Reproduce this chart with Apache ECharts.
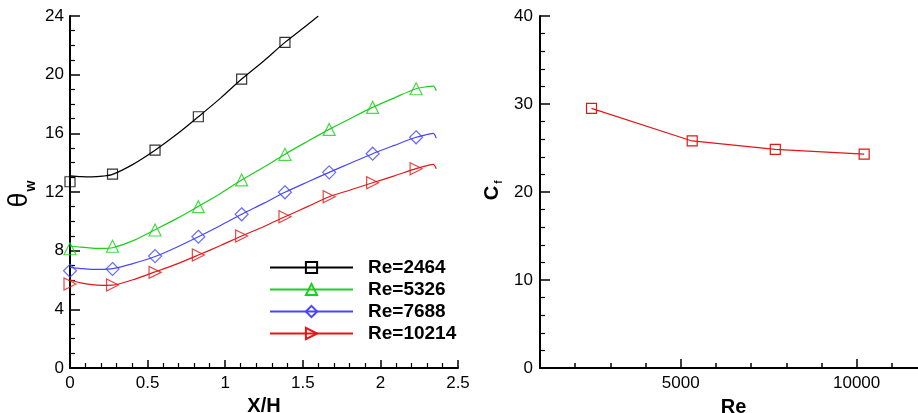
<!DOCTYPE html>
<html>
<head>
<meta charset="UTF-8">
<script src="https://cdn.jsdelivr.net/npm/echarts@6/dist/echarts.min.js"></script>
<style>
  html, body { margin: 0; padding: 0; background: #fff; }
  #chart { width: 918px; height: 413px; }
</style>
</head>
<body>
<div id="chart"></div>
<script>
// --- data ---
var reNames = ['Re=2464', 'Re=5326', 'Re=7688', 'Re=10214'];

// theta_w curves vs X/H
var curveX2464 = [0, 0.07, 0.14, 0.21, 0.274, 0.4, 0.548, 0.69, 0.827, 0.97, 1.106, 1.25, 1.385, 1.53, 1.6];
var curve2464 = [13.1, 13.05, 13.03, 13.08, 13.2, 13.85, 14.85, 15.95, 17.13, 18.4, 19.7, 20.95, 22.2, 23.4, 24.0];
var curveX = [0, 0.07, 0.14, 0.21, 0.274, 0.4, 0.548, 0.69, 0.827, 0.97, 1.106, 1.25, 1.385, 1.53, 1.67, 1.81, 1.95, 2.09, 2.23, 2.3, 2.34, 2.36];
var curve5326 = [8.32, 8.24, 8.18, 8.15, 8.2, 8.65, 9.43, 10.2, 11.02, 11.9, 12.82, 13.7, 14.58, 15.45, 16.27, 17.03, 17.77, 18.42, 19.04, 19.18, 19.22, 18.9];
var curve7688 = [6.86, 6.78, 6.73, 6.73, 6.77, 7.1, 7.6, 8.25, 8.95, 9.72, 10.48, 11.24, 11.98, 12.68, 13.34, 13.98, 14.61, 15.18, 15.73, 15.92, 16.0, 15.66];
var curve10214 = [6.0, 5.8, 5.68, 5.64, 5.65, 6.0, 6.55, 7.1, 7.7, 8.35, 9.0, 9.65, 10.31, 11.0, 11.68, 12.15, 12.63, 13.1, 13.59, 13.8, 13.89, 13.59];

// symbol points
var markX = [0, 0.274, 0.548, 0.827, 1.106, 1.385, 1.67, 1.95, 2.23];
var mark2464 = [12.7, 13.22, 14.86, 17.13, 19.7, 22.2];
var mark5326 = [8.13, 8.3, 9.41, 11.0, 12.82, 14.57, 16.27, 17.77, 19.04];
var mark7688 = [6.63, 6.75, 7.63, 8.95, 10.48, 11.98, 13.34, 14.61, 15.73];
var mark10214 = [5.73, 5.66, 6.52, 7.7, 9.0, 10.31, 11.68, 12.63, 13.59];

// Cf vs Re
var reValues = [2464, 5326, 7688, 10214];
var cfValues = [29.5, 25.8, 24.85, 24.3];
var reTicks = [5000, 10000];

// --- styling ---
var colors = ['#000000', '#1ccf1c', '#4646ff', '#e31616'];
var symbols = ['rect', 'triangle', 'diamond', 'triangle'];
var symRotate = [0, 0, 0, -90];
var symSizes = [10, 12, 13, 12];
var font = "'Liberation Sans', Arial, Helvetica, sans-serif";

function zip(xs, ys) {
  return ys.map(function (y, i) { return [xs[i], y]; });
}

var curves = [zip(curveX2464, curve2464), zip(curveX, curve5326), zip(curveX, curve7688), zip(curveX, curve10214)];
var marks = [zip(markX, mark2464), zip(markX, mark5326), zip(markX, mark7688), zip(markX, mark10214)];

var series = [];
reNames.forEach(function (name, i) {
  var item = { color: 'rgba(0,0,0,0)', borderColor: colors[i], borderWidth: 1.2 };
  series.push({
    name: name, type: 'line', xAxisIndex: 0, yAxisIndex: 0,
    data: curves[i], smooth: 0.3, showSymbol: false,
    symbol: symbols[i], symbolRotate: symRotate[i], symbolSize: symSizes[i],
    lineStyle: { color: colors[i], width: 1.2 }, itemStyle: item,
    animation: false, z: 2
  });
});
reNames.forEach(function (name, i) {
  series.push({
    name: name, type: 'scatter', xAxisIndex: 0, yAxisIndex: 0,
    data: marks[i], symbol: symbols[i], symbolRotate: symRotate[i], symbolSize: symSizes[i],
    itemStyle: { color: 'rgba(0,0,0,0)', borderColor: colors[i], borderWidth: 1.2 },
    animation: false, z: 3
  });
});
series.push({
  name: 'Cf', type: 'line', xAxisIndex: 1, yAxisIndex: 1,
  data: zip(reValues, cfValues), symbol: 'rect', symbolSize: 10,
  lineStyle: { color: colors[3], width: 1.2 },
  itemStyle: { color: 'rgba(0,0,0,0)', borderColor: colors[3], borderWidth: 1.2 },
  animation: false
});

var axisLine = { show: true, onZero: false, lineStyle: { color: '#000', width: 2 } };
var tick = function (len) { return { show: true, inside: true, length: len, lineStyle: { color: '#000', width: 1.5 } }; };
var minor = function (n) { return { show: true, splitNumber: n, length: 5, lineStyle: { color: '#000', width: 1.2 } }; };
var label = { color: '#000', fontSize: 17, fontFamily: font };
var nameStyle = { color: '#000', fontSize: 20, fontWeight: 'bold', fontFamily: font };

var myChart = echarts.init(document.getElementById('chart'));
myChart.setOption({
  animation: false,
  backgroundColor: '#fff',
  grid: [
    { left: 70, top: 16, width: 388, height: 352, outerBoundsMode: 'none', containLabel: false },
    { left: 540, top: 16, width: 387, height: 352, outerBoundsMode: 'none', containLabel: false }
  ],
  xAxis: [
    {
      type: 'value', gridIndex: 0, min: 0, max: 2.5, interval: 0.5,
      name: 'X/H', nameLocation: 'middle', nameGap: 20, nameTextStyle: nameStyle,
      axisLine: axisLine, axisTick: tick(8), minorTick: minor(5),
      axisLabel: Object.assign({ margin: 7 }, label), splitLine: { show: false }
    },
    {
      type: 'value', gridIndex: 1, min: 1000, max: 12000, interval: 1000,
      axisLine: axisLine, axisTick: tick(5), axisLabel: { show: false }, splitLine: { show: false }
    },
    {
      type: 'value', gridIndex: 1, min: 1000, max: 12000, position: 'bottom',
      name: 'Re', nameLocation: 'middle', nameGap: 29, nameTextStyle: nameStyle,
      axisLine: { show: false },
      axisTick: Object.assign(tick(9), { customValues: reTicks }),
      axisLabel: Object.assign({ margin: 7, customValues: reTicks, formatter: function (v) { return String(v); } }, label),
      splitLine: { show: false }
    }
  ],
  yAxis: [
    {
      type: 'value', gridIndex: 0, min: 0, max: 24, interval: 4,
      axisLine: axisLine, axisTick: tick(10), minorTick: minor(4),
      axisLabel: Object.assign({ margin: 6 }, label), splitLine: { show: false }
    },
    {
      type: 'value', gridIndex: 1, min: 0, max: 40, interval: 10,
      axisLine: axisLine, axisTick: tick(10), minorTick: minor(5),
      axisLabel: Object.assign({ margin: 7 }, label), splitLine: { show: false }
    }
  ],
  legend: {
    data: reNames, orient: 'vertical', left: 264, top: 253,
    itemWidth: 83, itemHeight: 14, itemGap: 3,
    textStyle: { color: '#000', fontSize: 19, fontWeight: 'bold', fontFamily: font, lineHeight: 19, padding: [0, 0, 0, 10] }
  },
  graphic: [
    { type: 'text', x: 20, y: 200, rotation: Math.PI / 2,
      style: { text: 'θ', fontSize: 27, fontFamily: font, fill: '#000', align: 'center', verticalAlign: 'middle' } },
    { type: 'text', x: 31, y: 186, rotation: Math.PI / 2,
      style: { text: 'w', fontSize: 14, fontWeight: 'bold', fontFamily: font, fill: '#000', align: 'center', verticalAlign: 'middle' } },
    { type: 'text', x: 492, y: 193, rotation: Math.PI / 2,
      style: { text: 'C', fontSize: 20, fontWeight: 'bold', fontFamily: font, fill: '#000', align: 'center', verticalAlign: 'middle' } },
    { type: 'text', x: 499, y: 182, rotation: Math.PI / 2,
      style: { text: 'f', fontSize: 10, fontWeight: 'bold', fontFamily: font, fill: '#000', align: 'center', verticalAlign: 'middle' } }
  ],
  series: series
});

window.addEventListener('resize', function () {
  myChart.resize();
});
</script>
</body>
</html>
